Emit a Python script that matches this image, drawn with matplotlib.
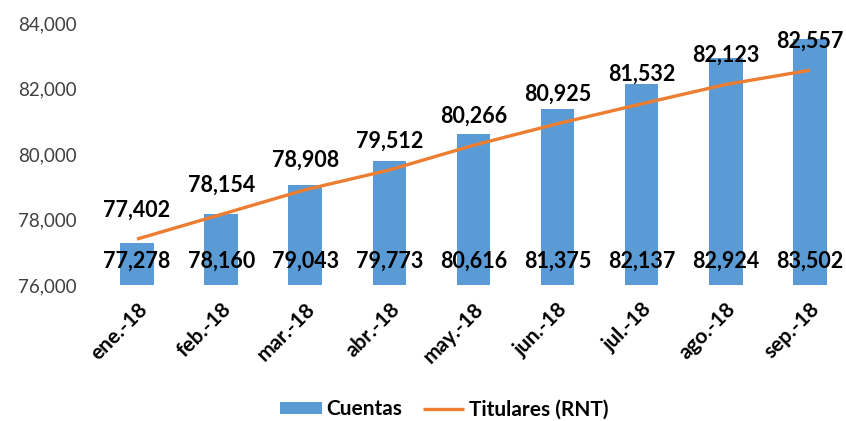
import matplotlib.pyplot as plt
import numpy as np
from matplotlib.ticker import FuncFormatter

months = ['ene.-18', 'feb.-18', 'mar.-18', 'abr.-18', 'may.-18',
          'jun.-18', 'jul.-18', 'ago.-18', 'sep.-18']
cuentas = [77278, 78160, 79043, 79773, 80616, 81375, 82137, 82924, 83502]
titulares = [77402, 78154, 78908, 79512, 80266, 80925, 81532, 82123, 82557]
yticks = [76000, 78000, 80000, 82000, 84000]

BLUE = '#5B9BD5'
ORANGE = '#ED7D31'

plt.rcParams['font.family'] = ['Lato', 'DejaVu Sans']

fig = plt.figure(figsize=(8.46, 4.21), dpi=100)
ax = fig.add_axes([95 / 846, (421 - 285) / 421, (846 - 95) / 846, 262 / 421])

x = np.arange(len(months))
bars = ax.bar(x, cuentas, width=0.4, color=BLUE, label='Cuentas', zorder=2)
line, = ax.plot(x, titulares, color=ORANGE, lw=2.4, label='Titulares (RNT)', zorder=3,
                solid_capstyle='butt')

for i, v in enumerate(titulares):
    ax.annotate(f'{v:,}', (i, v), xytext=(0, 21), textcoords='offset points',
                ha='center', va='center', fontsize=15.5, fontweight='bold',
                color='black', zorder=4)
for i, v in enumerate(cuentas):
    ax.annotate(f'{v:,}', (i, yticks[0]), xytext=(0, 17), textcoords='offset points',
                ha='center', va='center', fontsize=15.5, fontweight='bold',
                color='black', zorder=4)

ax.set_xlim(-0.5, 8.43)
ax.set_ylim(76000, 84000)
ax.set_yticks(yticks)
ax.yaxis.set_major_formatter(FuncFormatter(lambda v, p: f'{int(v):,}'))
ax.tick_params(axis='y', length=0, labelsize=13.5, labelcolor='#404040', pad=13)
ax.set_xticks(x)
ax.set_xticklabels(months, rotation=45, ha='right', rotation_mode='anchor',
                   fontsize=15, fontweight='bold')
ax.tick_params(axis='x', length=0, pad=10)
for s in ax.spines.values():
    s.set_visible(False)

leg = fig.legend([bars, line], ['Cuentas', 'Titulares (RNT)'],
                 loc='center', bbox_to_anchor=(0.525, 0.028), ncol=2, frameon=False,
                 prop={'size': 15, 'weight': 'bold'}, handlelength=2.0,
                 handleheight=0.5, handletextpad=0.2, columnspacing=1.0)

fig.savefig('out.png', dpi=100)
